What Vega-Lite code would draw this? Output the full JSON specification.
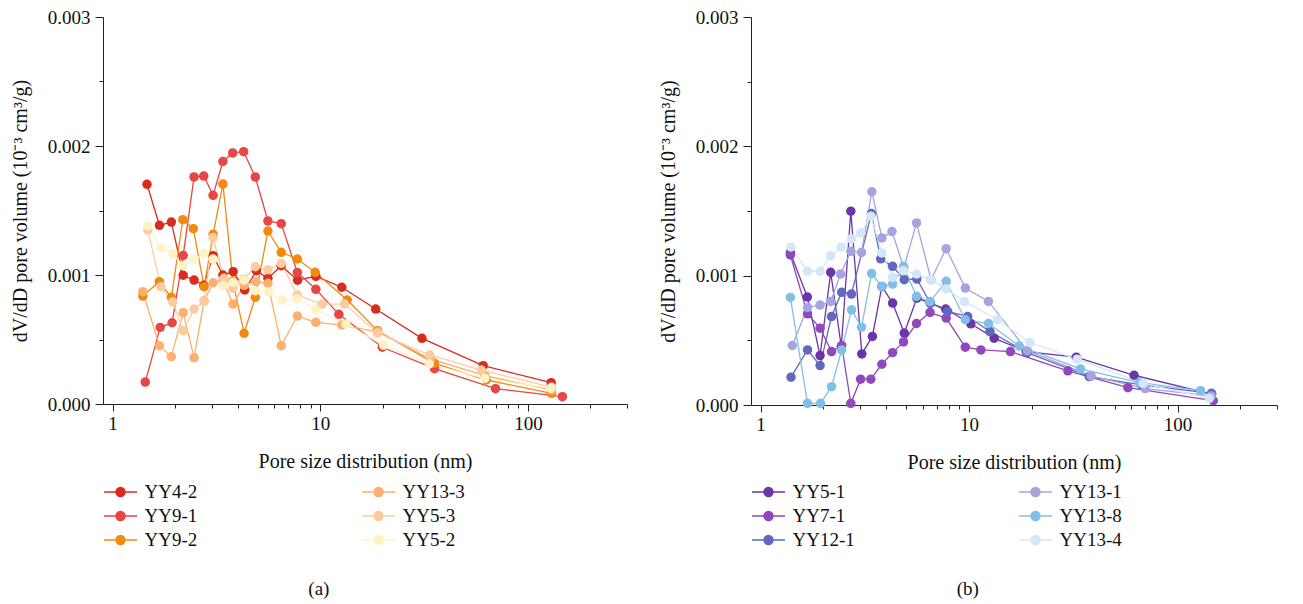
{
  "$schema": "https://vega.github.io/schema/vega-lite/v6.json",
  "padding": {"left": 10, "top": 8, "right": 0, "bottom": 0},
  "background": "white",
  "config": {
    "view": {"stroke": null},
    "font": "Liberation Serif",
    "axis": {"grid": false, "domainColor": "#222", "tickColor": "#222", "labelColor": "#111", "titleColor": "#111", "labelFont": "Liberation Serif", "titleFont": "Liberation Serif", "labelFontSize": 19, "titleFontSize": 20, "titleFontWeight": "normal", "domainWidth": 1, "tickWidth": 1},
    "legend": {"labelFont": "Liberation Serif", "labelFontSize": 19, "labelColor": "#111"},
    "title": {"font": "Liberation Serif", "fontSize": 19, "fontWeight": "normal", "color": "#111"}
  },
  "resolve": {"scale": {"color": "independent"}, "legend": {"color": "independent"}},
  "datasets": {
    "a": [
      {"s":"YY4-2","x":1.466,"y":0.001703},{"s":"YY4-2","x":1.683,"y":0.001385},{"s":"YY4-2","x":1.92,"y":0.00141},{"s":"YY4-2","x":2.19,"y":0.000998},{"s":"YY4-2","x":2.47,"y":0.000961},{"s":"YY4-2","x":2.75,"y":0.00092},{"s":"YY4-2","x":3.05,"y":0.00115},{"s":"YY4-2","x":3.4,"y":0.001},{"s":"YY4-2","x":3.81,"y":0.001026},{"s":"YY4-2","x":4.33,"y":0.000884},{"s":"YY4-2","x":4.93,"y":0.001033},{"s":"YY4-2","x":5.6,"y":0.000974},{"s":"YY4-2","x":6.49,"y":0.001072},{"s":"YY4-2","x":7.78,"y":0.00096},{"s":"YY4-2","x":9.53,"y":0.00099},{"s":"YY4-2","x":12.7,"y":0.000905},{"s":"YY4-2","x":18.5,"y":0.000736},{"s":"YY4-2","x":30.9,"y":0.000509},{"s":"YY4-2","x":60.9,"y":0.000297},{"s":"YY4-2","x":129.4,"y":0.000165},
      {"s":"YY9-1","x":1.438,"y":0.00017},{"s":"YY9-1","x":1.697,"y":0.000594},{"s":"YY9-1","x":1.937,"y":0.00063},{"s":"YY9-1","x":2.19,"y":0.001152},{"s":"YY9-1","x":2.47,"y":0.00176},{"s":"YY9-1","x":2.75,"y":0.001767},{"s":"YY9-1","x":3.05,"y":0.001618},{"s":"YY9-1","x":3.4,"y":0.00188},{"s":"YY9-1","x":3.79,"y":0.001946},{"s":"YY9-1","x":4.28,"y":0.001956},{"s":"YY9-1","x":4.87,"y":0.00176},{"s":"YY9-1","x":5.6,"y":0.001419},{"s":"YY9-1","x":6.49,"y":0.001398},{"s":"YY9-1","x":7.76,"y":0.00102},{"s":"YY9-1","x":9.53,"y":0.000889},{"s":"YY9-1","x":12.3,"y":0.000695},{"s":"YY9-1","x":19.9,"y":0.00044},{"s":"YY9-1","x":35.5,"y":0.000274},{"s":"YY9-1","x":69.8,"y":0.000119},{"s":"YY9-1","x":146.6,"y":0.000057},
      {"s":"YY9-2","x":1.4,"y":0.000837},{"s":"YY9-2","x":1.68,"y":0.000948},{"s":"YY9-2","x":1.92,"y":0.000827},{"s":"YY9-2","x":2.18,"y":0.001429},{"s":"YY9-2","x":2.45,"y":0.001359},{"s":"YY9-2","x":2.76,"y":0.000909},{"s":"YY9-2","x":3.05,"y":0.001315},{"s":"YY9-2","x":3.4,"y":0.001705},{"s":"YY9-2","x":3.8,"y":0.000953},{"s":"YY9-2","x":4.3,"y":0.000548},{"s":"YY9-2","x":4.87,"y":0.000827},{"s":"YY9-2","x":5.6,"y":0.001341},{"s":"YY9-2","x":6.49,"y":0.001176},{"s":"YY9-2","x":7.76,"y":0.001124},{"s":"YY9-2","x":9.46,"y":0.001021},{"s":"YY9-2","x":13.5,"y":0.000806},{"s":"YY9-2","x":18.9,"y":0.000568},{"s":"YY9-2","x":35.5,"y":0.000315},{"s":"YY9-2","x":63,"y":0.000186},{"s":"YY9-2","x":130,"y":0.000083},
      {"s":"YY13-3","x":1.4,"y":0.000871},{"s":"YY13-3","x":1.68,"y":0.000452},{"s":"YY13-3","x":1.92,"y":0.000367},{"s":"YY13-3","x":2.19,"y":0.000708},{"s":"YY13-3","x":2.47,"y":0.000359},{"s":"YY13-3","x":2.76,"y":0.0008},{"s":"YY13-3","x":3.05,"y":0.00094},{"s":"YY13-3","x":3.4,"y":0.00096},{"s":"YY13-3","x":3.8,"y":0.000775},{"s":"YY13-3","x":4.3,"y":0.00092},{"s":"YY13-3","x":4.9,"y":0.00095},{"s":"YY13-3","x":5.6,"y":0.000936},{"s":"YY13-3","x":6.49,"y":0.000452},{"s":"YY13-3","x":7.76,"y":0.000682},{"s":"YY13-3","x":9.53,"y":0.000633},{"s":"YY13-3","x":12.7,"y":0.000612},{"s":"YY13-3","x":18.9,"y":0.00056},{"s":"YY13-3","x":34,"y":0.00035},{"s":"YY13-3","x":62,"y":0.00022},{"s":"YY13-3","x":130,"y":0.00011},
      {"s":"YY5-3","x":1.48,"y":0.001349},{"s":"YY5-3","x":1.71,"y":0.000909},{"s":"YY5-3","x":1.95,"y":0.000791},{"s":"YY5-3","x":2.19,"y":0.000568},{"s":"YY5-3","x":2.47,"y":0.000736},{"s":"YY5-3","x":2.76,"y":0.000798},{"s":"YY5-3","x":3.05,"y":0.001289},{"s":"YY5-3","x":3.44,"y":0.000974},{"s":"YY5-3","x":3.8,"y":0.000897},{"s":"YY5-3","x":4.3,"y":0.00097},{"s":"YY5-3","x":4.87,"y":0.001064},{"s":"YY5-3","x":5.6,"y":0.00104},{"s":"YY5-3","x":6.49,"y":0.00109},{"s":"YY5-3","x":7.76,"y":0.000845},{"s":"YY5-3","x":10.2,"y":0.000775},{"s":"YY5-3","x":13.1,"y":0.000775},{"s":"YY5-3","x":18.9,"y":0.00055},{"s":"YY5-3","x":33.7,"y":0.00038},{"s":"YY5-3","x":59.7,"y":0.000263},{"s":"YY5-3","x":130,"y":0.00013},
      {"s":"YY5-2","x":1.48,"y":0.00138},{"s":"YY5-2","x":1.71,"y":0.00121},{"s":"YY5-2","x":1.95,"y":0.001165},{"s":"YY5-2","x":2.19,"y":0.001072},{"s":"YY5-2","x":2.47,"y":0.001122},{"s":"YY5-2","x":2.76,"y":0.001168},{"s":"YY5-2","x":3.05,"y":0.001124},{"s":"YY5-2","x":3.4,"y":0.000917},{"s":"YY5-2","x":3.8,"y":0.000943},{"s":"YY5-2","x":4.3,"y":0.000961},{"s":"YY5-2","x":4.87,"y":0.000878},{"s":"YY5-2","x":5.65,"y":0.000871},{"s":"YY5-2","x":6.56,"y":0.000806},{"s":"YY5-2","x":7.76,"y":0.000814},{"s":"YY5-2","x":9.53,"y":0.000734},{"s":"YY5-2","x":13.3,"y":0.00062},{"s":"YY5-2","x":20.2,"y":0.000457},{"s":"YY5-2","x":33.5,"y":0.00031},{"s":"YY5-2","x":62,"y":0.000199},{"s":"YY5-2","x":129,"y":0.000122}
    ],
    "b": [
      {"s":"YY5-1","x":1.39,"y":0.001176},{"s":"YY5-1","x":1.677,"y":0.000835},{"s":"YY5-1","x":1.93,"y":0.000382},{"s":"YY5-1","x":2.17,"y":0.001026},{"s":"YY5-1","x":2.44,"y":0.000452},{"s":"YY5-1","x":2.71,"y":0.001499},{"s":"YY5-1","x":3.06,"y":0.000395},{"s":"YY5-1","x":3.44,"y":0.00053},{"s":"YY5-1","x":3.82,"y":0.000917},{"s":"YY5-1","x":4.3,"y":0.000788},{"s":"YY5-1","x":4.89,"y":0.000556},{"s":"YY5-1","x":5.62,"y":0.000827},{"s":"YY5-1","x":6.52,"y":0.000788},{"s":"YY5-1","x":7.73,"y":0.000742},{"s":"YY5-1","x":10.2,"y":0.000628},{"s":"YY5-1","x":13.2,"y":0.000517},{"s":"YY5-1","x":18.8,"y":0.000413},{"s":"YY5-1","x":32.7,"y":0.00037},{"s":"YY5-1","x":61.9,"y":0.00023},{"s":"YY5-1","x":145.6,"y":0.000085},
      {"s":"YY7-1","x":1.39,"y":0.00116},{"s":"YY7-1","x":1.68,"y":0.000705},{"s":"YY7-1","x":1.93,"y":0.000594},{"s":"YY7-1","x":2.19,"y":0.000413},{"s":"YY7-1","x":2.45,"y":0.00046},{"s":"YY7-1","x":2.71,"y":0.000013},{"s":"YY7-1","x":3.02,"y":0.0002},{"s":"YY7-1","x":3.38,"y":0.0002},{"s":"YY7-1","x":3.82,"y":0.000315},{"s":"YY7-1","x":4.3,"y":0.000405},{"s":"YY7-1","x":4.85,"y":0.000488},{"s":"YY7-1","x":5.6,"y":0.00063},{"s":"YY7-1","x":6.5,"y":0.000716},{"s":"YY7-1","x":7.77,"y":0.000672},{"s":"YY7-1","x":9.6,"y":0.000447},{"s":"YY7-1","x":11.4,"y":0.000426},{"s":"YY7-1","x":15.8,"y":0.000413},{"s":"YY7-1","x":29.8,"y":0.000264},{"s":"YY7-1","x":57.8,"y":0.000134},{"s":"YY7-1","x":148.5,"y":0.000033},
      {"s":"YY12-1","x":1.4,"y":0.000215},{"s":"YY12-1","x":1.68,"y":0.000426},{"s":"YY12-1","x":1.93,"y":0.000305},{"s":"YY12-1","x":2.19,"y":0.000684},{"s":"YY12-1","x":2.45,"y":0.000871},{"s":"YY12-1","x":2.73,"y":0.000858},{"s":"YY12-1","x":3.4,"y":0.00148},{"s":"YY12-1","x":3.77,"y":0.00113},{"s":"YY12-1","x":4.3,"y":0.001072},{"s":"YY12-1","x":4.89,"y":0.000969},{"s":"YY12-1","x":5.62,"y":0.000974},{"s":"YY12-1","x":6.52,"y":0.000788},{"s":"YY12-1","x":7.9,"y":0.000723},{"s":"YY12-1","x":9.85,"y":0.000684},{"s":"YY12-1","x":12.6,"y":0.000568},{"s":"YY12-1","x":19,"y":0.000405},{"s":"YY12-1","x":37.7,"y":0.00022},{"s":"YY12-1","x":67.4,"y":0.000155},{"s":"YY12-1","x":145.6,"y":0.00009},
      {"s":"YY13-1","x":1.42,"y":0.00046},{"s":"YY13-1","x":1.68,"y":0.000754},{"s":"YY13-1","x":1.93,"y":0.000773},{"s":"YY13-1","x":2.17,"y":0.000801},{"s":"YY13-1","x":2.42,"y":0.001013},{"s":"YY13-1","x":2.71,"y":0.001188},{"s":"YY13-1","x":3.05,"y":0.00118},{"s":"YY13-1","x":3.42,"y":0.001649},{"s":"YY13-1","x":3.82,"y":0.001292},{"s":"YY13-1","x":4.27,"y":0.001341},{"s":"YY13-1","x":4.87,"y":0.00106},{"s":"YY13-1","x":5.6,"y":0.001408},{"s":"YY13-1","x":6.57,"y":0.000969},{"s":"YY13-1","x":7.77,"y":0.001209},{"s":"YY13-1","x":9.6,"y":0.000904},{"s":"YY13-1","x":12.4,"y":0.000801},{"s":"YY13-1","x":19,"y":0.00042},{"s":"YY13-1","x":38.5,"y":0.000225},{"s":"YY13-1","x":70,"y":0.000127},{"s":"YY13-1","x":145,"y":0.00007},
      {"s":"YY13-8","x":1.39,"y":0.000832},{"s":"YY13-8","x":1.68,"y":0.000013},{"s":"YY13-8","x":1.94,"y":0.000013},{"s":"YY13-8","x":2.19,"y":0.000142},{"s":"YY13-8","x":2.45,"y":0.000426},{"s":"YY13-8","x":2.73,"y":0.000736},{"s":"YY13-8","x":3.05,"y":0.000602},{"s":"YY13-8","x":3.41,"y":0.001016},{"s":"YY13-8","x":3.82,"y":0.000917},{"s":"YY13-8","x":4.3,"y":0.000935},{"s":"YY13-8","x":4.85,"y":0.001072},{"s":"YY13-8","x":5.6,"y":0.00084},{"s":"YY13-8","x":6.5,"y":0.0008},{"s":"YY13-8","x":7.77,"y":0.000956},{"s":"YY13-8","x":9.6,"y":0.000659},{"s":"YY13-8","x":12.4,"y":0.00063},{"s":"YY13-8","x":17.4,"y":0.000457},{"s":"YY13-8","x":34.2,"y":0.000279},{"s":"YY13-8","x":65.8,"y":0.000173},{"s":"YY13-8","x":129,"y":0.000111},
      {"s":"YY13-4","x":1.4,"y":0.001222},{"s":"YY13-4","x":1.68,"y":0.001034},{"s":"YY13-4","x":1.93,"y":0.001034},{"s":"YY13-4","x":2.17,"y":0.001155},{"s":"YY13-4","x":2.44,"y":0.00122},{"s":"YY13-4","x":2.73,"y":0.001284},{"s":"YY13-4","x":3.02,"y":0.001331},{"s":"YY13-4","x":3.38,"y":0.00146},{"s":"YY13-4","x":3.82,"y":0.001176},{"s":"YY13-4","x":4.3,"y":0.000987},{"s":"YY13-4","x":4.85,"y":0.001039},{"s":"YY13-4","x":5.6,"y":0.001013},{"s":"YY13-4","x":6.57,"y":0.000969},{"s":"YY13-4","x":7.77,"y":0.000897},{"s":"YY13-4","x":9.5,"y":0.000801},{"s":"YY13-4","x":13.7,"y":0.000659},{"s":"YY13-4","x":19.6,"y":0.000483},{"s":"YY13-4","x":33,"y":0.000354},{"s":"YY13-4","x":68.5,"y":0.000168},{"s":"YY13-4","x":142,"y":0.000052}
    ]
  },
  "spacing": 30,
  "hconcat": [
    {
      "width": 524, "height": 387,
      "data": {"name": "a"},
      "title": {"text": "(a)", "orient": "bottom", "anchor": "middle", "frame": "bounds", "offset": 30},
      "mark": {"type": "line", "strokeWidth": 1.3, "point": {"filled": true, "size": 90, "opacity": 1}},
      "encoding": {
        "x": {"field": "x", "type": "quantitative", "scale": {"type": "log", "domain": [0.9, 300], "nice": false}, "title": "Pore size distribution (nm)",
          "axis": {"values": [1,2,3,4,5,6,7,8,9,10,20,30,40,50,60,70,80,90,100,200,300], "format": "d", "labelExpr": "datum.value==1||datum.value==10||datum.value==100 ? format(datum.value,'d') : ''", "tickSize": {"condition": {"test": "datum.value==1||datum.value==10||datum.value==100", "value": 7}, "value": 4}, "labelPadding": 3, "titlePadding": 18, "labelFlush": false, "labelOverlap": false}},
        "y": {"field": "y", "type": "quantitative", "scale": {"domain": [0, 0.003], "nice": false}, "title": "dV/dD pore volume (10⁻³ cm³/g)",
          "axis": {"values": [0,0.0005,0.001,0.0015,0.002,0.0025,0.003], "format": ".3f", "labelExpr": "abs(datum.value*1000 - round(datum.value*1000)) < 0.01 ? format(datum.value,'.3f') : ''", "tickSize": {"condition": {"test": "abs(datum.value*1000 - round(datum.value*1000)) < 0.01", "value": 8}, "value": 4}, "labelPadding": 5, "titlePadding": 17, "labelFlush": false, "labelOverlap": false}},
        "color": {"field": "s", "type": "nominal",
          "scale": {"domain": ["YY4-2","YY9-1","YY9-2","YY13-3","YY5-3","YY5-2"], "range": ["#d92b1e","#e84545","#f28a10","#fbb06e","#fdcba0","#fff3c4"]},
          "legend": {"title": null, "orient": "none", "legendX": 0, "legendY": 464, "columns": 2, "columnPadding": 161, "rowPadding": 3, "symbolType": "M-1,0L2.3,0M1.1,0A0.45,0.45,0,1,1,0.2,0A0.45,0.45,0,1,1,1.1,0Z", "symbolSize": 400, "symbolStrokeWidth": 1.5, "labelOffset": 19.5}}
      }
    },
    {
      "width": 526, "height": 388,
      "data": {"name": "b"},
      "title": {"text": "(b)", "orient": "bottom", "anchor": "middle", "frame": "bounds", "offset": 30},
      "mark": {"type": "line", "strokeWidth": 1.3, "point": {"filled": true, "size": 90, "opacity": 1}},
      "encoding": {
        "x": {"field": "x", "type": "quantitative", "scale": {"type": "log", "domain": [0.9, 300], "nice": false}, "title": "Pore size distribution (nm)",
          "axis": {"values": [1,2,3,4,5,6,7,8,9,10,20,30,40,50,60,70,80,90,100,200,300], "format": "d", "labelExpr": "datum.value==1||datum.value==10||datum.value==100 ? format(datum.value,'d') : ''", "tickSize": {"condition": {"test": "datum.value==1||datum.value==10||datum.value==100", "value": 7}, "value": 4}, "labelPadding": 3, "titlePadding": 18, "labelFlush": false, "labelOverlap": false}},
        "y": {"field": "y", "type": "quantitative", "scale": {"domain": [0, 0.003], "nice": false}, "title": "dV/dD pore volume (10⁻³ cm³/g)",
          "axis": {"values": [0,0.0005,0.001,0.0015,0.002,0.0025,0.003], "format": ".3f", "labelExpr": "abs(datum.value*1000 - round(datum.value*1000)) < 0.01 ? format(datum.value,'.3f') : ''", "tickSize": {"condition": {"test": "abs(datum.value*1000 - round(datum.value*1000)) < 0.01", "value": 8}, "value": 4}, "labelPadding": 5, "titlePadding": 17, "labelFlush": false, "labelOverlap": false}},
        "color": {"field": "s", "type": "nominal",
          "scale": {"domain": ["YY5-1","YY7-1","YY12-1","YY13-1","YY13-8","YY13-4"], "range": ["#6b36aa","#9148bd","#6268c0","#a5a4e0","#80c0e6","#d2e7f8"]},
          "legend": {"title": null, "orient": "none", "legendX": 0, "legendY": 464, "columns": 2, "columnPadding": 161, "rowPadding": 3, "symbolType": "M-1,0L2.3,0M1.1,0A0.45,0.45,0,1,1,0.2,0A0.45,0.45,0,1,1,1.1,0Z", "symbolSize": 400, "symbolStrokeWidth": 1.5, "labelOffset": 19.5}}
      }
    }
  ]
}
